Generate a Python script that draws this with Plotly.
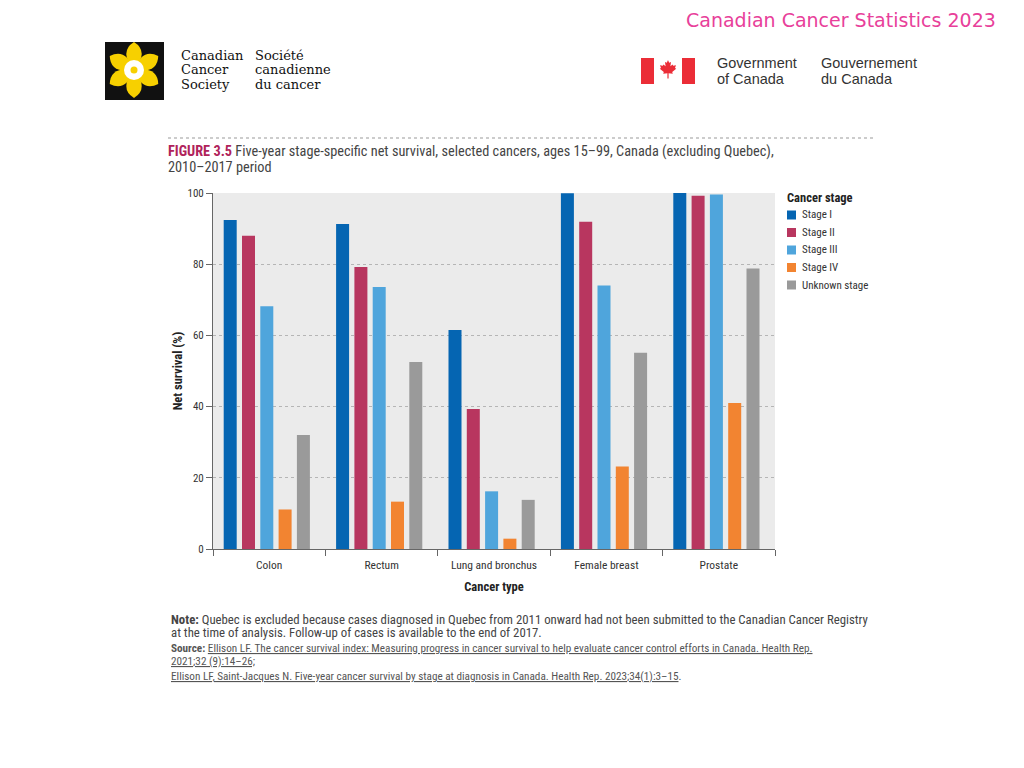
import math
import plotly.graph_objects as go

# ---------------- data ----------------
categories = ["Colon", "Rectum", "Lung and bronchus", "Female breast", "Prostate"]
stage_names = ["Stage I", "Stage II", "Stage III", "Stage IV", "Unknown stage"]
stage_i = [92.4, 91.3, 61.5, 99.9, 100.0]
stage_ii = [88.0, 79.2, 39.3, 91.9, 99.2]
stage_iii = [68.2, 73.6, 16.2, 74.0, 99.6]
stage_iv = [11.1, 13.3, 2.9, 23.2, 41.0]
stage_unknown = [32.0, 52.5, 13.8, 55.1, 78.8]
y_ticks = [0, 20, 40, 60, 80, 100]

series = [stage_i, stage_ii, stage_iii, stage_iv, stage_unknown]
colors = ["#0565b2", "#b8365f", "#4fa5dc", "#f28431", "#9a9a9a"]

# page body has an 8px margin: figure is 1008x752 placed at (8,8)
OX, OY = 8, 8
FW, FH = 1008, 752
def px(x):
    return (x - OX) / FW
def py(y):
    return 1 - (y - OY) / FH

FONT = "Liberation Sans Narrow, Roboto Condensed, Arial Narrow, Roboto, sans-serif"

# bar placement within each category slot (category width = 1)
CAT_PX = (775 - 213) / 5.0
BAR_W = 13.0 / CAT_PX
BAR_PITCH = 18.3 / CAT_PX
FIRST_OFF = -45.5 / CAT_PX

fig = go.Figure()
for i, (name, vals, col) in enumerate(zip(stage_names, series, colors)):
    fig.add_trace(go.Bar(name=name, x=categories, y=vals, showlegend=False,
                         width=BAR_W, offset=FIRST_OFF + i * BAR_PITCH,
                         marker=dict(color=col, line=dict(width=0))))

fig.update_layout(
    width=FW, height=FH,
    margin=dict(l=0, r=0, t=0, b=0, autoexpand=False),
    paper_bgcolor="white",
    plot_bgcolor="#ebebeb",
    barmode="overlay",
    font=dict(family=FONT, size=11, color="#333"),
    showlegend=False,
    xaxis=dict(
        domain=[px(213), px(775)],
        automargin=False,
        showline=True, linecolor="#666", linewidth=1,
        ticks="outside", tickson="boundaries", ticklen=6, tickcolor="#666",
        ticklabelstandoff=5,
        tickfont=dict(size=11.5, color="#333"),
        title=dict(text="<b>Cancer type</b>", font=dict(size=12.5, color="#222"), standoff=11),
        showgrid=False,
    ),
    yaxis=dict(
        domain=[py(549), py(193)],
        automargin=False,
        range=[0, 100],
        tickvals=y_ticks,
        showline=True, linecolor="#666", linewidth=1,
        ticks="outside", ticklen=6, tickcolor="#666",
        tickfont=dict(size=11, color="#333"),
        showgrid=True, gridcolor="#b5b5b5", griddash="dot", gridwidth=1,
        zeroline=False,
        title=dict(text="<b>Net survival (%)</b>", font=dict(size=12.5, color="#222"), standoff=2),
    ),
)

shapes = []
annotations = []

def text(x, y, s, size, color="#444", family=FONT, anchor="left"):
    annotations.append(dict(xref="paper", yref="paper", x=px(x), y=py(y), xanchor=anchor, yanchor="middle",
                            align="left", showarrow=False, text=s,
                            font=dict(family=family, size=size, color=color)))

# legend (manual)
text(785, 197, "<b>Cancer stage</b>", 12.5, "#222")
leg_y = [215, 232.5, 250, 267.5, 285]
for name, col, yy in zip(stage_names, colors, leg_y):
    shapes.append(dict(type="rect", xref="paper", yref="paper", x0=px(787), x1=px(796), y0=py(yy + 4.5), y1=py(yy - 4.5),
                       fillcolor=col, line=dict(width=0)))
    text(800, yy, name, 11, "#333")

# dotted separator line above figure title
shapes.append(dict(type="line", xref="paper", yref="paper", x0=px(168), x1=px(873), y0=py(138), y1=py(138),
                   line=dict(color="#999", width=1.2, dash="dot")))

# Figure title
text(166, 152, "<span style='color:#b0235a'><b>FIGURE 3.5</b></span> Five-year stage-specific net survival, selected cancers, ages 15–99, Canada (excluding Quebec),", 14.3, "#444")
text(166, 167, "2010–2017 period", 14.3, "#444")

# Notes
text(169, 619, "<b>Note:</b> Quebec is excluded because cases diagnosed in Quebec from 2011 onward had not been submitted to the Canadian Cancer Registry", 12.8, "#444")
text(169, 632, "at the time of analysis. Follow-up of cases is available to the end of 2017.", 12.8, "#444")
text(169, 648, "<b>Source:</b> <span style='text-decoration:underline'>Ellison LF. The cancer survival index: Measuring progress in cancer survival to help evaluate cancer control efforts in Canada. Health Rep.</span>", 11.2, "#555")
text(169, 661, "<span style='text-decoration:underline'>2021;32 (9):14–26;</span>", 11.2, "#555")
text(169, 676, "<span style='text-decoration:underline'>Ellison LF, Saint-Jacques N. Five-year cancer survival by stage at diagnosis in Canada. Health Rep. 2023;34(1):3–15</span>.", 11.2, "#555")

# Header title
text(998, 20, "Canadian Cancer Statistics 2023", 19, "#e8409a", family="DejaVu Sans, sans-serif", anchor="right")

# Canadian Cancer Society logo
shapes.append(dict(type="rect", xref="paper", yref="paper", x0=px(105), x1=px(164), y0=py(100), y1=py(42),
                   fillcolor="#111", line=dict(width=0)))
cx, cy = 134, 70
def pol(r, deg):
    a = math.radians(deg)
    return cx + r * math.cos(a), cy - r * math.sin(a)
for k in range(6):
    base = 90 + 60 * k
    c1 = pol(24, base + 40)
    tip = pol(28, base)
    c2 = pol(24, base - 40)
    path = (f"M {px(cx):.5f},{py(cy):.5f} Q {px(c1[0]):.5f},{py(c1[1]):.5f} {px(tip[0]):.5f},{py(tip[1]):.5f} "
            f"Q {px(c2[0]):.5f},{py(c2[1]):.5f} {px(cx):.5f},{py(cy):.5f} Z")
    shapes.append(dict(type="path", xref="paper", yref="paper", path=path, fillcolor="#f7d000", line=dict(width=0)))
shapes.append(dict(type="circle", xref="paper", yref="paper", x0=px(cx - 10), x1=px(cx + 10), y0=py(cy + 10), y1=py(cy - 10),
                   fillcolor="white", line=dict(width=0)))
shapes.append(dict(type="circle", xref="paper", yref="paper", x0=px(cx - 3.5), x1=px(cx + 3.5), y0=py(cy + 3.5), y1=py(cy - 3.5),
                   fillcolor="#f7d000", line=dict(width=0)))
SERIF = "DejaVu Serif, Liberation Serif, serif"
for s, yy in zip(["Canadian", "Cancer", "Society"], [56, 70, 85]):
    text(179, yy, s, 13, "#111", family=SERIF)
for s, yy in zip(["Société", "canadienne", "du cancer"], [56, 70, 85]):
    text(253, yy, s, 13, "#111", family=SERIF)

# Government of Canada logo
shapes.append(dict(type="rect", xref="paper", yref="paper", x0=px(641), x1=px(654), y0=py(84), y1=py(58),
                   fillcolor="#eb2d37", line=dict(width=0)))
shapes.append(dict(type="rect", xref="paper", yref="paper", x0=px(682), x1=px(695), y0=py(84), y1=py(58),
                   fillcolor="#eb2d37", line=dict(width=0)))
leaf = [(0, 1), (0.12, 0.72), (0.3, 0.8), (0.24, 0.38), (0.45, 0.55), (0.52, 0.42), (0.8, 0.48), (0.7, 0.2),
        (0.82, 0.12), (0.42, -0.2), (0.48, -0.38), (0.06, -0.32), (0.06, -0.85), (-0.06, -0.85), (-0.06, -0.32),
        (-0.48, -0.38), (-0.42, -0.2), (-0.82, 0.12), (-0.7, 0.2), (-0.8, 0.48), (-0.52, 0.42), (-0.45, 0.55),
        (-0.24, 0.38), (-0.3, 0.8), (-0.12, 0.72)]
lx, ly, s = 668, 70, 10
path = "M " + " L ".join(f"{px(lx + s * a):.5f},{py(ly - s * b):.5f}" for a, b in leaf) + " Z"
shapes.append(dict(type="path", xref="paper", yref="paper", path=path, fillcolor="#eb2d37", line=dict(width=0)))
SANS = "Liberation Sans, Arial, sans-serif"
text(715, 63, "Government", 14.5, "#333", family=SANS)
text(715, 79, "of Canada", 14.5, "#333", family=SANS)
text(819, 63, "Gouvernement", 14.5, "#333", family=SANS)
text(819, 79, "du Canada", 14.5, "#333", family=SANS)

fig.update_layout(shapes=shapes, annotations=annotations)
fig.write_html("out.html")
